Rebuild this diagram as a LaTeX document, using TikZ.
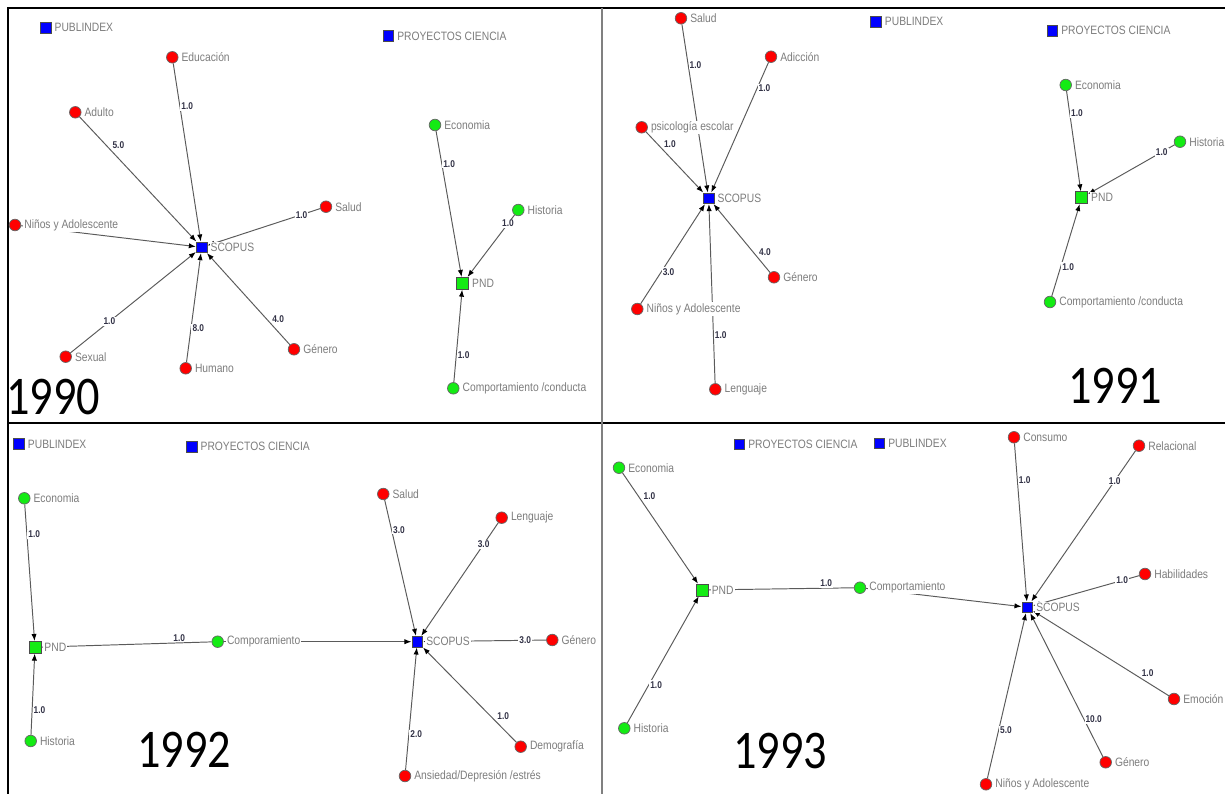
\documentclass[tikz,border=0pt]{standalone}
\usepackage{fontspec}
\newfontfamily\netfont[FakeStretch=0.85]{Liberation Sans}
\newfontfamily\yearfont[FakeStretch=0.85]{Carlito}
\usepackage{tikz}
\usetikzlibrary{arrows.meta,backgrounds}
\definecolor{vred}{RGB}{255,0,0}
\definecolor{vgreen}{RGB}{20,235,20}
\definecolor{vblue}{RGB}{0,0,255}
\definecolor{labgray}{RGB}{125,125,125}
\definecolor{wgray}{RGB}{90,90,90}
\definecolor{wtext}{RGB}{50,50,70}

\begin{document}
\begin{tikzpicture}[x=0.02cm, y=-0.02cm, label distance=1pt,
    topic/.style={circle, draw=black!60, fill=vred, minimum size=6.6pt, inner sep=0pt},
    area/.style={topic, fill=vgreen},
    db/.style={rectangle, draw=black!70, fill=vblue, minimum size=6.2pt, inner sep=0pt},
    plan/.style={db, fill=vgreen, minimum size=6.8pt},
    tag/.style={font=\netfont\fontsize{6.9}{7.5}\selectfont, text=labgray, fill=white, inner sep=0.6pt},
    link/.style={draw=wgray, line width=0.55pt, -{Latex[length=4pt,width=3pt,color=black]}},
    bond/.style={draw=wgray, line width=0.55pt},
    wt/.style={font=\netfont\bfseries\fontsize{5.6}{6}\selectfont, text=wtext, fill=white, inner sep=0.6pt},
    yr/.style={font=\yearfont\fontsize{31}{31}\selectfont, inner sep=0pt}]
            \useasboundingbox (0,0) rectangle (1225,794);
            \draw[line width=1pt] (7,8) -- (1225,8);
            \draw[line width=1pt] (8,8) -- (8,794);
            \draw[line width=0.8pt] (8,423) -- (1225,423);
            \draw[line width=1.4pt, black!50] (602,8) -- (602,794);

            \node[db, label={[tag]right:PUBLINDEX}] (Pub0) at (45.7,27.7) {};
            \node[db, label={[tag]right:PROYECTOS CIENCIA}] (Pro0) at (388.3,36) {};
            \node[topic, label={[tag]right:Educación}] (Edu0) at (172.3,57.3) {};
            \node[topic, label={[tag]right:Adulto}] (Adu0) at (75.3,112.3) {};
            \node[topic, label={[tag]right:Niños y Adolescente}] (Nin0) at (15,225) {};
            \node[db, label={[tag]right:SCOPUS}] (Sco0) at (201.7,247.3) {};
            \node[topic, label={[tag]right:Salud}] (Sal0) at (326,206.7) {};
            \node[topic, label={[tag]right:Sexual}] (Sex0) at (65.7,356.7) {};
            \node[topic, label={[tag]right:Humano}] (Hum0) at (185.7,368.3) {};
            \node[topic, label={[tag]right:Género}] (Gen0) at (294,349.3) {};
            \node[area, label={[tag]right:Economia}] (Eco0) at (435,125) {};
            \node[area, label={[tag]right:Historia}] (His0) at (518.3,210) {};
            \node[plan, label={[tag]right:PND}] (Pnd0) at (462.7,283.3) {};
            \node[area, label={[tag]right:Comportamiento /conducta}] (Com0) at (453.3,388.3) {};
            \node[yr] (Yr0) at (53,397) {1990};

            \node[topic, label={[tag]right:Salud}] (Sal1) at (681,18.3) {};
            \node[topic, label={[tag]right:Adicción}] (Adi1) at (771,56.7) {};
            \node[topic, label={[tag]right:psicología escolar}] (Psi1) at (641.7,127.3) {};
            \node[db, label={[tag]right:SCOPUS}] (Sco1) at (708.7,198.3) {};
            \node[topic, label={[tag]right:Género}] (Gen1) at (774,277.3) {};
            \node[topic, label={[tag]right:Niños y Adolescente}] (Nin1) at (637.3,309) {};
            \node[topic, label={[tag]right:Lenguaje}] (Len1) at (715.3,389.3) {};
            \node[db, label={[tag]right:PUBLINDEX}] (Pub1) at (876,21.7) {};
            \node[db, label={[tag]right:PROYECTOS CIENCIA}] (Pro1) at (1052.3,30.7) {};
            \node[area, label={[tag]right:Economia}] (Eco1) at (1065.7,85) {};
            \node[area, label={[tag]right:Historia}] (His1) at (1180,141.7) {};
            \node[plan, label={[tag]right:PND}] (Pnd1) at (1081.7,197.7) {};
            \node[area, label={[tag]right:Comportamiento /conducta}] (Com1) at (1050,302) {};
            \node[yr] (Yr1) at (1115,386) {1991};

            \node[db, label={[tag]right:PUBLINDEX}] (Pub2) at (19,444) {};
            \node[db, label={[tag]right:PROYECTOS CIENCIA}] (Pro2) at (191.7,446.7) {};
            \node[area, label={[tag]right:Economia}] (Eco2) at (24.3,498.3) {};
            \node[plan, label={[tag]right:PND}] (Pnd2) at (35,647.3) {};
            \node[area, label={[tag]right:Historia}] (His2) at (30.7,741) {};
            \node[area, label={[tag]right:Comporamiento}] (Cmp2) at (217.7,641.7) {};
            \node[topic, label={[tag]right:Salud}] (Sal2) at (383.3,494) {};
            \node[topic, label={[tag]right:Lenguaje}] (Len2) at (501.7,517.7) {};
            \node[db, label={[tag]right:SCOPUS}] (Sco2) at (417.3,641.7) {};
            \node[topic, label={[tag]right:Género}] (Gen2) at (552.3,640) {};
            \node[topic, label={[tag]right:Demografía}] (Dem2) at (520.7,746.7) {};
            \node[topic, label={[tag]right:Ansiedad/Depresión /estrés}] (Ans2) at (405,776) {};
            \node[yr] (Yr2) at (184,750) {1992};

            \node[db, label={[tag]right:PROYECTOS CIENCIA}] (Pro3) at (739.3,444.3) {};
            \node[db, label={[tag]right:PUBLINDEX}] (Pub3) at (879.3,443.3) {};
            \node[area, label={[tag]right:Economia}] (Eco3) at (619,467.7) {};
            \node[plan, label={[tag]right:PND}] (Pnd3) at (702.3,590) {};
            \node[area, label={[tag]right:Historia}] (His3) at (624.3,728.3) {};
            \node[area, label={[tag]right:Comportamiento}] (Com3) at (860,587.7) {};
            \node[db, label={[tag]right:SCOPUS}] (Sco3) at (1027.3,607.3) {};
            \node[topic, label={[tag]right:Consumo}] (Con3) at (1014,437.3) {};
            \node[topic, label={[tag]right:Relacional}] (Rel3) at (1139,445.7) {};
            \node[topic, label={[tag]right:Habilidades}] (Hab3) at (1145,574) {};
            \node[topic, label={[tag]right:Emoción}] (Emo3) at (1174,699) {};
            \node[topic, label={[tag]right:Género}] (Gen3) at (1105.7,762.3) {};
            \node[topic, label={[tag]right:Niños y Adolescente}] (Nin3) at (986,784.3) {};
            \node[yr] (Yr3) at (780,751) {1993};

            \begin{scope}[on background layer]
            \draw[link] (Edu0) -- node[wt, pos=0.24, right] {1.0} (Sco0);
            \draw[link] (Adu0) -- node[wt, pos=0.27, above right] {5.0} (Sco0);
            \draw[link] (Nin0) -- (Sco0);
            \draw[link] (Sal0) -- node[wt, pos=0.165] {1.0} (Sco0);
            \draw[link] (Sex0) -- node[wt, pos=0.31] {1.0} (Sco0);
            \draw[link] (Hum0) -- node[wt, pos=0.31, right] {8.0} (Sco0);
            \draw[link] (Gen0) -- node[wt, pos=0.23, above right] {4.0} (Sco0);
            \draw[link] (Eco0) -- node[wt, pos=0.225, right] {1.0} (Pnd0);
            \draw[link] (His0) -- node[wt, pos=0.14] {1.0} (Pnd0);
            \draw[link] (Com0) -- node[wt, pos=0.29, right] {1.0} (Pnd0);

            \draw[link] (Sal1) -- node[wt, pos=0.24, right] {1.0} (Sco1);
            \draw[link] (Adi1) -- node[wt, pos=0.2, right] {1.0} (Sco1);
            \draw[link] (Psi1) -- node[wt, pos=0.29, above right] {1.0} (Sco1);
            \draw[link] (Gen1) -- node[wt, pos=0.22, above right] {4.0} (Sco1);
            \draw[link] (Nin1) -- node[wt, pos=0.32, right] {3.0} (Sco1);
            \draw[link] (Len1) -- node[wt, pos=0.27, right] {1.0} (Sco1);
            \draw[link] (Eco1) -- node[wt, pos=0.22, right] {1.0} (Pnd1);
            \draw[link] (His1) -- node[wt, pos=0.15] {1.0} (Pnd1);
            \draw[link] (Com1) -- node[wt, pos=0.32, right] {1.0} (Pnd1);

            \draw[link] (Eco2) -- node[wt, pos=0.22, right] {1.0} (Pnd2);
            \draw[link] (His2) -- node[wt, pos=0.31, right] {1.0} (Pnd2);
            \draw[bond] (Pnd2) -- node[wt, pos=0.81, above] {1.0} (Cmp2);
            \draw[link] (Cmp2) -- (Sco2);
            \draw[link] (Sal2) -- node[wt, pos=0.22, right] {3.0} (Sco2);
            \draw[link] (Len2) -- node[wt, pos=0.19] {3.0} (Sco2);
            \draw[link] (Gen2) -- node[wt, pos=0.17] {3.0} (Sco2);
            \draw[link] (Dem2) -- node[wt, pos=0.22, above right] {1.0} (Sco2);
            \draw[link] (Ans2) -- node[wt, pos=0.29, right] {2.0} (Sco2);

            \draw[link] (Eco3) -- node[wt, pos=0.26, above right] {1.0} (Pnd3);
            \draw[link] (His3) -- node[wt, pos=0.3, right] {1.0} (Pnd3);
            \draw[bond] (Pnd3) -- node[wt, pos=0.81, above] {1.0} (Com3);
            \draw[link] (Com3) -- (Sco3);
            \draw[link] (Con3) -- node[wt, pos=0.23, right] {1.0} (Sco3);
            \draw[link] (Rel3) -- node[wt, pos=0.2] {1.0} (Sco3);
            \draw[link] (Hab3) -- node[wt, pos=0.16] {1.0} (Sco3);
            \draw[link] (Emo3) -- node[wt, pos=0.21, above right] {1.0} (Sco3);
            \draw[link] (Gen3) -- node[wt, pos=0.26, right] {10.0} (Sco3);
            \draw[link] (Nin3) -- node[wt, pos=0.29, right] {5.0} (Sco3);
            \end{scope}
        \end{tikzpicture}
\end{document}
